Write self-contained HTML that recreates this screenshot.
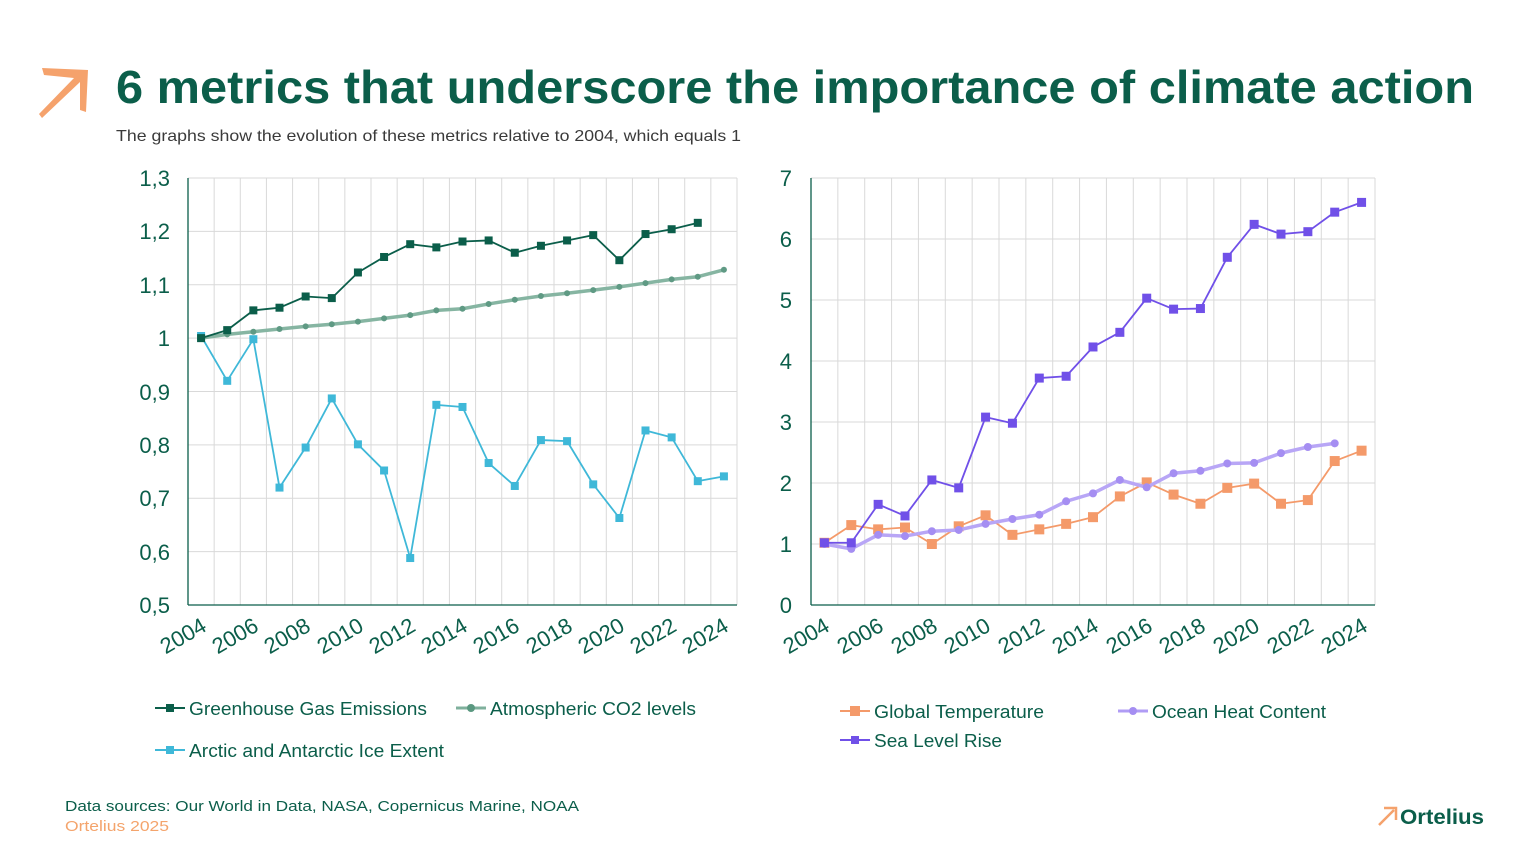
<!DOCTYPE html>
<html><head><meta charset="utf-8"><style>
html,body{margin:0;padding:0;background:#fff;}
svg{display:block;font-family:"Liberation Sans",sans-serif;}
</style></head><body>
<svg id="s" width="1532" height="863" viewBox="0 0 1532 863" xmlns="http://www.w3.org/2000/svg">
<path d="M42,68 L88,70 L86,112 L80,110 L80,82 L42,118 L39,114 L74,78 L44,75 Z" fill="#f5a26c"/>
<text x="116" y="103" font-size="46" font-weight="bold" fill="#0b5e4a" textLength="1358" lengthAdjust="spacingAndGlyphs">6 metrics that underscore the importance of climate action</text>
<text x="116" y="141" font-size="16" fill="#3a3a3a" textLength="625" lengthAdjust="spacingAndGlyphs">The graphs show the evolution of these metrics relative to 2004, which equals 1</text>
<g id="grid"></g>
<g id="series"></g>
<g font-size="22" fill="#0b5e4a" text-anchor="end">
<text x="170" y="186">1,3</text><text x="170" y="239">1,2</text><text x="170" y="293">1,1</text>
<text x="170" y="346">1</text><text x="170" y="400">0,9</text><text x="170" y="453">0,8</text>
<text x="170" y="506">0,7</text><text x="170" y="560">0,6</text><text x="170" y="613">0,5</text>
</g>
<g font-size="22" fill="#0b5e4a" text-anchor="end">
<text x="792" y="186">7</text><text x="792" y="247">6</text><text x="792" y="308">5</text>
<text x="792" y="369">4</text><text x="792" y="430">3</text><text x="792" y="491">2</text>
<text x="792" y="552">1</text><text x="792" y="613">0</text>
</g>
<g font-size="22" fill="#0b5e4a" text-anchor="end">
<text transform="translate(208,630) rotate(-30)">2004</text>
<text transform="translate(260,630) rotate(-30)">2006</text>
<text transform="translate(312,630) rotate(-30)">2008</text>
<text transform="translate(365,630) rotate(-30)">2010</text>
<text transform="translate(417,630) rotate(-30)">2012</text>
<text transform="translate(469,630) rotate(-30)">2014</text>
<text transform="translate(521,630) rotate(-30)">2016</text>
<text transform="translate(574,630) rotate(-30)">2018</text>
<text transform="translate(626,630) rotate(-30)">2020</text>
<text transform="translate(678,630) rotate(-30)">2022</text>
<text transform="translate(730,630) rotate(-30)">2024</text>
<text transform="translate(831,630) rotate(-30)">2004</text>
<text transform="translate(885,630) rotate(-30)">2006</text>
<text transform="translate(939,630) rotate(-30)">2008</text>
<text transform="translate(992,630) rotate(-30)">2010</text>
<text transform="translate(1046,630) rotate(-30)">2012</text>
<text transform="translate(1100,630) rotate(-30)">2014</text>
<text transform="translate(1154,630) rotate(-30)">2016</text>
<text transform="translate(1207,630) rotate(-30)">2018</text>
<text transform="translate(1261,630) rotate(-30)">2020</text>
<text transform="translate(1315,630) rotate(-30)">2022</text>
<text transform="translate(1369,630) rotate(-30)">2024</text>
</g>
<g font-size="18" fill="#0b5e4a">
<line x1="155" y1="708" x2="185" y2="708" stroke="#0b5e4a" stroke-width="2"/><rect x="166" y="704" width="8" height="8" fill="#0b5e4a"/>
<text x="189" y="715" textLength="238" lengthAdjust="spacingAndGlyphs">Greenhouse Gas Emissions</text>
<line x1="456" y1="708" x2="486" y2="708" stroke="#7fb09c" stroke-width="3"/><circle cx="471" cy="708" r="4" fill="#5a9880"/>
<text x="490" y="715" textLength="206" lengthAdjust="spacingAndGlyphs">Atmospheric CO2 levels</text>
<line x1="155" y1="750" x2="185" y2="750" stroke="#3fb8d8" stroke-width="2"/><rect x="166" y="746" width="8" height="8" fill="#3fb8d8"/>
<text x="189" y="757" textLength="255" lengthAdjust="spacingAndGlyphs">Arctic and Antarctic Ice Extent</text>
<line x1="840" y1="711" x2="870" y2="711" stroke="#f49a6a" stroke-width="2"/><rect x="850" y="706" width="10" height="10" fill="#f49a6a"/>
<text x="874" y="718" textLength="170" lengthAdjust="spacingAndGlyphs">Global Temperature</text>
<line x1="1118" y1="711" x2="1148" y2="711" stroke="#b09cf5" stroke-width="3"/><circle cx="1133" cy="711" r="4" fill="#a58ef2"/>
<text x="1152" y="718" textLength="174" lengthAdjust="spacingAndGlyphs">Ocean Heat Content</text>
<line x1="840" y1="740" x2="870" y2="740" stroke="#7050e8" stroke-width="2"/><rect x="851" y="736" width="8" height="8" fill="#7050e8"/>
<text x="874" y="747" textLength="128" lengthAdjust="spacingAndGlyphs">Sea Level Rise</text>
</g>
<text x="65" y="811" font-size="15" fill="#0b5e4a" textLength="514" lengthAdjust="spacingAndGlyphs">Data sources: Our World in Data, NASA, Copernicus Marine, NOAA</text>
<text x="65" y="831" font-size="15" fill="#f4a46c" textLength="104" lengthAdjust="spacingAndGlyphs">Ortelius 2025</text>
<path d="M1379,825 L1394,810 M1384,808 L1396,808 L1396,820" stroke="#f5a26c" stroke-width="2.5" fill="none"/>
<text x="1400" y="824" font-size="21" font-weight="bold" fill="#0b5e4a" textLength="84" lengthAdjust="spacingAndGlyphs">Ortelius</text>
</svg>
<script>
var NS="http://www.w3.org/2000/svg";
var g=document.getElementById('grid'),s=document.getElementById('series');
function el(p,t,a){var e=document.createElementNS(NS,t);for(var k in a)e.setAttribute(k,a[k]);p.appendChild(e);return e;}
function chart(x0,x1,y0,y1,nh){
 var bw=(x1-x0)/21;
 for(var i=1;i<=21;i++)el(g,'line',{x1:x0+bw*i,x2:x0+bw*i,y1:y0,y2:y1,stroke:'#d9d9d9','stroke-width':1});
 for(var j=0;j<nh;j++){var y=y0+(y1-y0)*j/nh;el(g,'line',{x1:x0,x2:x1,y1:y,y2:y,stroke:'#d9d9d9','stroke-width':1});}
 el(g,'line',{x1:x0,x2:x0,y1:y0,y2:y1,stroke:'#0b5e4a','stroke-width':1.3});
 el(g,'line',{x1:x0,x2:x1,y1:y1,y2:y1,stroke:'#0b5e4a','stroke-width':1.3});
 return bw;
}
var bwL=chart(188,737,178,605,8), bwR=chart(811,1375,178,605,7);
function series(d,x0,bw,ymap,col,w,mk,mcol,ms){
 var pts=d.map(function(v,i){return [x0+bw*(i+0.5),ymap(v)];});
 el(s,'polyline',{points:pts.map(function(p){return p.join(',')}).join(' '),fill:'none',stroke:col,'stroke-width':w,'stroke-linejoin':'round'});
 pts.forEach(function(p){
  if(mk=='sq')el(s,'rect',{x:p[0]-ms/2,y:p[1]-ms/2,width:ms,height:ms,fill:mcol});
  else el(s,'circle',{cx:p[0],cy:p[1],r:ms/2,fill:mcol});
 });
}
var yl=function(v){return 605-(v-0.5)/0.8*427;}, yr=function(v){return 605-v/7*427;};
series([1.004,0.920,0.998,0.720,0.795,0.887,0.801,0.752,0.588,0.875,0.871,0.766,0.723,0.809,0.807,0.726,0.663,0.827,0.814,0.732,0.741],188,bwL,yl,'#3fb8d8',1.8,'sq','#3fb8d8',8);
series([1,1.007,1.012,1.017,1.022,1.026,1.031,1.037,1.043,1.052,1.055,1.064,1.072,1.079,1.084,1.090,1.096,1.103,1.110,1.115,1.128],188,bwL,yl,'#86b5a2',3.5,'c','#5f9a84',6);
series([1,1.015,1.052,1.057,1.078,1.075,1.123,1.152,1.176,1.170,1.181,1.183,1.160,1.173,1.183,1.193,1.146,1.195,1.204,1.216],188,bwL,yl,'#0b5e4a',1.8,'sq','#0b5e4a',8);
series([1.02,1.31,1.24,1.27,1.0,1.29,1.47,1.15,1.24,1.33,1.44,1.78,2.01,1.81,1.66,1.92,1.99,1.66,1.72,2.36,2.53],811,bwR,yr,'#f49a6a',1.8,'sq','#f49a6a',10);
series([1.0,0.92,1.15,1.13,1.21,1.23,1.33,1.41,1.48,1.70,1.83,2.05,1.93,2.16,2.20,2.32,2.33,2.49,2.59,2.65],811,bwR,yr,'#b8a6f6',3.5,'c','#a58ef2',8);
series([1.02,1.02,1.65,1.46,2.05,1.92,3.08,2.98,3.72,3.75,4.23,4.47,5.03,4.85,4.86,5.70,6.24,6.08,6.12,6.44,6.60],811,bwR,yr,'#7050e8',1.8,'sq','#7050e8',9);
</script>
</body></html>
